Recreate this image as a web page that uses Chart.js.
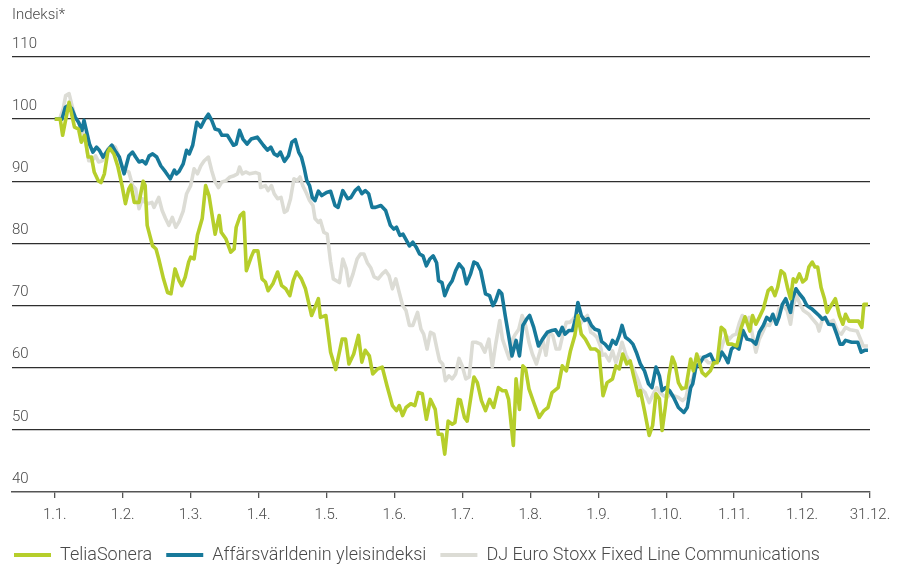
<!DOCTYPE html>
<html>
<head>
<meta charset="utf-8">
<script src="https://cdn.jsdelivr.net/npm/chart.js@4"></script>
<style>
  html, body { margin: 0; padding: 0; background: #fff; }
  #wrap { width: 905px; height: 568px; position: relative; }
</style>
</head>
<body>
<div id="wrap"><canvas id="chart"></canvas></div>
<script>
// x = months from 1.1. (0) to 31.12. (12), y = index (1.1. = 100)
const monthLabels = ['1.1.', '1.2.', '1.3.', '1.4.', '1.5.', '1.6.', '1.7.', '1.8.', '1.9.', '1.10.', '1.11.', '1.12.', '31.12.'];
const yTicks = [40, 50, 60, 70, 80, 90, 100, 110];
const seriesNames = ['TeliaSonera', 'Affärsvärldenin yleisindeksi', 'DJ Euro Stoxx Fixed Line Communications'];
const seriesColors = ['#b6ce2b', '#17799a', '#dcdcd5'];

const teliaSonera = [
  [0, 100], [0.08, 100], [0.115, 97.4], [0.21, 102.7], [0.29, 98.7], [0.35, 98.4], [0.39, 96.3], [0.44, 97.4],
  [0.49, 93.9], [0.54, 93.9], [0.58, 91.5], [0.64, 90.1], [0.68, 89.8], [0.73, 91.2], [0.78, 94.7], [0.81, 95.3],
  [0.87, 94.4], [0.93, 92.3], [0.99, 89.3], [1.04, 86.4], [1.09, 88.8], [1.12, 89.4], [1.17, 86.6], [1.24, 86.6],
  [1.30, 90.0], [1.33, 89.3], [1.36, 82.9], [1.44, 79.6], [1.49, 79.1], [1.53, 77.5], [1.60, 74.3], [1.66, 72.1],
  [1.71, 71.9], [1.77, 75.9], [1.83, 74.0], [1.87, 73.2], [1.92, 74.6], [1.97, 77.0], [2.00, 77.8], [2.05, 77.5],
  [2.10, 81.3], [2.17, 84.0], [2.22, 89.3], [2.27, 87.7], [2.36, 81.5], [2.42, 84.5], [2.45, 81.8], [2.52, 80.7],
  [2.59, 78.6], [2.64, 79.1], [2.67, 82.6], [2.73, 84.5], [2.78, 85.0], [2.82, 75.6], [2.89, 77.8], [2.93, 78.8],
  [2.99, 78.8], [3.05, 74.3], [3.10, 73.8], [3.14, 72.4], [3.21, 73.5], [3.28, 75.4], [3.34, 73.2], [3.40, 72.7],
  [3.46, 71.6], [3.51, 74.0], [3.56, 75.4], [3.63, 74.3], [3.69, 72.7], [3.78, 68.4], [3.84, 70.0], [3.88, 71.1],
  [3.91, 68.1], [3.99, 68.4], [4.06, 62.5], [4.135, 59.7], [4.23, 64.6], [4.28, 64.6], [4.33, 60.6], [4.40, 62.2],
  [4.47, 65.2], [4.52, 60.9], [4.57, 62.8], [4.63, 61.9], [4.68, 59.0], [4.75, 59.8], [4.82, 60.1], [4.89, 57.1],
  [4.97, 53.9], [5.03, 53.1], [5.07, 53.9], [5.12, 52.3], [5.17, 53.6], [5.24, 54.2], [5.30, 53.9], [5.35, 56.0],
  [5.41, 55.8], [5.47, 51.7], [5.53, 54.9], [5.60, 53.3], [5.645, 49.3], [5.70, 49.3], [5.74, 46.1], [5.79, 51.4],
  [5.85, 50.9], [5.89, 51.2], [5.94, 54.9], [5.97, 54.8], [6.03, 52.0], [6.07, 51.4], [6.17, 58.5], [6.22, 57.6],
  [6.28, 54.7], [6.34, 53.1], [6.40, 54.9], [6.46, 53.6], [6.53, 56.8], [6.59, 56.3], [6.64, 56.3], [6.68, 54.9],
  [6.75, 47.5], [6.79, 58.2], [6.84, 53.3], [6.89, 60.3], [6.93, 59.8], [6.98, 56.6], [7.05, 54.4], [7.13, 52.0],
  [7.20, 53.1], [7.26, 53.6], [7.32, 56.0], [7.41, 56.8], [7.47, 60.3], [7.53, 59.5], [7.59, 62.7], [7.655, 65.2],
  [7.70, 68.4], [7.75, 65.4], [7.81, 64.6], [7.89, 63.0], [7.96, 63.0], [8.01, 62.5], [8.07, 55.5], [8.13, 57.6],
  [8.21, 58.2], [8.26, 60.3], [8.31, 59.8], [8.36, 62.2], [8.42, 60.6], [8.47, 61.1], [8.52, 58.7], [8.59, 55.5],
  [8.62, 56.3], [8.68, 53.1], [8.75, 49.1], [8.80, 50.7], [8.85, 55.8], [8.90, 55.0], [8.94, 49.9], [8.99, 53.9],
  [9.04, 58.7], [9.09, 61.7], [9.13, 60.6], [9.18, 57.6], [9.23, 56.6], [9.29, 56.8], [9.36, 61.4], [9.40, 59.5],
  [9.45, 62.2], [9.53, 59.2], [9.58, 58.7], [9.65, 59.5], [9.70, 60.8], [9.75, 60.8], [9.81, 66.5], [9.86, 66.0],
  [9.91, 63.8], [9.97, 63.8], [10.04, 63.5], [10.10, 66.3], [10.16, 68.2], [10.23, 65.9], [10.27, 68.4], [10.32, 67.0],
  [10.37, 68.1], [10.43, 69.5], [10.50, 72.4], [10.55, 72.9], [10.60, 71.6], [10.64, 72.9], [10.69, 75.6], [10.74, 75.1],
  [10.79, 72.7], [10.83, 71.1], [10.87, 74.3], [10.91, 73.8], [10.96, 75.1], [11.01, 73.8], [11.06, 74.3], [11.10, 76.2],
  [11.15, 77.0], [11.19, 76.2], [11.23, 76.2], [11.28, 72.9], [11.33, 71.1], [11.37, 68.9], [11.41, 69.7], [11.49, 71.1],
  [11.55, 68.4], [11.60, 67.0], [11.64, 68.6], [11.69, 67.5], [11.78, 67.5], [11.83, 67.5], [11.88, 66.5], [11.91, 70.2],
  [11.97, 70.2]
];

const affarsvarlden = [
  [0, 100], [0.105, 100], [0.155, 101.9], [0.20, 102.2], [0.25, 101.7], [0.30, 100.3], [0.35, 99.5], [0.40, 98.2],
  [0.43, 99.8], [0.47, 97.9], [0.51, 96.0], [0.56, 94.7], [0.615, 95.5], [0.655, 95.0], [0.71, 93.9], [0.78, 95.0],
  [0.84, 95.8], [0.90, 94.7], [0.95, 93.9], [1.02, 91.2], [1.09, 94.1], [1.145, 94.7], [1.19, 93.9], [1.24, 93.1],
  [1.29, 93.3], [1.34, 92.8], [1.39, 94.1], [1.44, 94.4], [1.50, 93.9], [1.56, 92.5], [1.63, 91.5], [1.70, 90.4],
  [1.76, 91.8], [1.79, 91.2], [1.83, 91.6], [1.89, 92.8], [1.94, 95.0], [1.98, 94.4], [2.03, 95.8], [2.09, 99.5],
  [2.15, 98.7], [2.21, 100.0], [2.26, 100.8], [2.31, 99.8], [2.36, 98.4], [2.42, 98.2], [2.46, 97.4], [2.54, 97.4],
  [2.63, 95.8], [2.67, 96.0], [2.72, 98.2], [2.77, 96.8], [2.83, 96.0], [2.89, 96.8], [2.98, 97.1], [3.07, 95.8],
  [3.13, 95.0], [3.18, 95.5], [3.23, 94.4], [3.28, 94.1], [3.32, 94.7], [3.38, 93.2], [3.44, 94.1], [3.49, 96.3],
  [3.54, 96.7], [3.59, 94.7], [3.63, 93.9], [3.67, 92.2], [3.71, 90.1], [3.75, 89.3], [3.79, 87.4], [3.83, 86.9],
  [3.88, 88.4], [3.93, 87.7], [4.00, 88.2], [4.06, 88.4], [4.125, 86.1], [4.17, 85.8], [4.24, 88.5], [4.31, 87.2],
  [4.36, 87.4], [4.42, 88.5], [4.47, 89.0], [4.52, 88.0], [4.57, 88.5], [4.62, 88.0], [4.67, 85.8], [4.72, 85.8],
  [4.80, 86.1], [4.87, 85.3], [4.94, 82.9], [4.99, 82.3], [5.03, 82.6], [5.08, 81.3], [5.125, 81.5], [5.17, 80.6],
  [5.22, 79.6], [5.27, 80.2], [5.32, 79.4], [5.37, 78.3], [5.42, 78.0], [5.47, 76.4], [5.52, 77.5], [5.57, 78.0],
  [5.62, 76.9], [5.65, 74.0], [5.70, 73.7], [5.74, 71.6], [5.80, 73.2], [5.85, 74.0], [5.90, 75.6], [5.95, 76.7],
  [6.01, 75.9], [6.06, 73.5], [6.12, 75.1], [6.17, 77.0], [6.22, 76.7], [6.27, 75.6], [6.34, 71.9], [6.40, 71.6],
  [6.45, 70.0], [6.49, 70.8], [6.54, 72.4], [6.58, 71.9], [6.63, 68.4], [6.68, 65.2], [6.73, 61.9], [6.79, 64.4],
  [6.84, 61.9], [6.89, 66.8], [6.95, 67.9], [6.99, 68.4], [7.05, 66.5], [7.12, 63.5], [7.18, 64.6], [7.25, 65.7],
  [7.32, 66.0], [7.37, 66.1], [7.42, 65.2], [7.47, 66.5], [7.51, 65.4], [7.57, 66.0], [7.62, 66.0], [7.665, 67.9],
  [7.70, 70.5], [7.75, 68.4], [7.80, 67.6], [7.85, 67.9], [7.90, 66.8], [7.95, 66.2], [8.01, 66.0], [8.05, 64.2],
  [8.10, 63.8], [8.16, 63.0], [8.21, 64.4], [8.26, 63.8], [8.31, 65.2], [8.35, 66.8], [8.40, 64.9], [8.46, 64.4],
  [8.51, 63.8], [8.56, 62.5], [8.62, 60.6], [8.68, 59.5], [8.74, 57.4], [8.79, 56.8], [8.85, 60.1], [8.90, 58.7],
  [8.94, 56.3], [8.99, 56.8], [9.05, 56.3], [9.11, 55.2], [9.18, 53.6], [9.26, 52.8], [9.31, 53.6], [9.36, 56.8],
  [9.39, 57.4], [9.44, 60.3], [9.49, 60.6], [9.55, 61.7], [9.60, 61.9], [9.65, 62.2], [9.71, 60.8], [9.77, 61.1],
  [9.82, 62.5], [9.87, 61.7], [9.91, 60.8], [9.96, 63.0], [10.01, 63.5], [10.07, 63.0], [10.13, 66.0], [10.19, 64.6],
  [10.26, 64.4], [10.32, 63.8], [10.37, 65.7], [10.43, 66.8], [10.48, 68.1], [10.53, 67.6], [10.57, 68.6], [10.62, 67.0],
  [10.66, 68.1], [10.71, 70.2], [10.76, 71.1], [10.83, 68.9], [10.86, 71.1], [10.91, 72.7], [10.96, 71.9], [11.02, 71.1],
  [11.07, 70.0], [11.14, 69.5], [11.20, 68.9], [11.25, 68.4], [11.30, 67.8], [11.34, 68.1], [11.39, 67.0], [11.46, 66.9],
  [11.51, 65.4], [11.56, 63.8], [11.60, 63.8], [11.64, 64.4], [11.73, 64.1], [11.82, 64.1], [11.87, 62.5], [11.92, 62.8],
  [11.97, 62.8]
];

const djStoxx = [
  [0.03, 100], [0.07, 100], [0.125, 101.7], [0.16, 103.8], [0.21, 104.1], [0.26, 101.9], [0.30, 100.3], [0.35, 99.5],
  [0.40, 98.2], [0.46, 96.0], [0.50, 93.3], [0.55, 93.3], [0.60, 94.1], [0.645, 93.1], [0.70, 93.3], [0.78, 95.2],
  [0.84, 95.8], [0.89, 95.5], [0.93, 94.4], [0.97, 92.8], [1.02, 91.8], [1.09, 91.5], [1.145, 89.3], [1.19, 88.8],
  [1.24, 85.6], [1.29, 87.2], [1.33, 86.6], [1.38, 86.4], [1.43, 86.6], [1.46, 85.8], [1.53, 87.4], [1.58, 85.3],
  [1.63, 84.0], [1.68, 82.9], [1.73, 84.2], [1.78, 82.6], [1.83, 83.5], [1.89, 85.2], [1.94, 88.0], [2.00, 89.3],
  [2.05, 92.0], [2.10, 91.2], [2.15, 92.5], [2.20, 93.3], [2.26, 93.9], [2.31, 91.7], [2.36, 89.9], [2.41, 89.0],
  [2.46, 89.9], [2.52, 90.1], [2.58, 90.7], [2.64, 90.9], [2.69, 91.2], [2.72, 92.3], [2.76, 91.2], [2.81, 91.5],
  [2.87, 91.2], [2.96, 91.4], [3.01, 91.2], [3.03, 89.0], [3.10, 89.3], [3.14, 88.5], [3.19, 89.3], [3.23, 88.0],
  [3.28, 87.2], [3.33, 87.4], [3.38, 85.0], [3.42, 85.3], [3.47, 87.2], [3.52, 90.4], [3.57, 90.1], [3.61, 90.7],
  [3.65, 89.3], [3.70, 88.2], [3.75, 86.9], [3.80, 86.1], [3.83, 84.0], [3.88, 83.4], [3.91, 83.7], [3.96, 81.8],
  [4.01, 81.5], [4.06, 77.0], [4.10, 74.3], [4.145, 74.0], [4.19, 73.7], [4.24, 77.5], [4.29, 75.9], [4.33, 73.2],
  [4.39, 75.1], [4.45, 77.5], [4.50, 78.3], [4.55, 78.3], [4.60, 76.9], [4.65, 76.1], [4.70, 74.6], [4.76, 74.3],
  [4.82, 75.1], [4.87, 75.6], [4.92, 74.8], [4.97, 72.7], [5.02, 74.3], [5.07, 72.1], [5.12, 70.0], [5.17, 69.2],
  [5.22, 66.8], [5.27, 66.8], [5.34, 68.9], [5.39, 66.2], [5.43, 65.4], [5.48, 63.0], [5.53, 65.7], [5.58, 65.4],
  [5.63, 62.8], [5.665, 61.1], [5.71, 60.6], [5.75, 57.9], [5.80, 58.7], [5.85, 58.2], [5.90, 59.0], [5.95, 61.5],
  [6.00, 60.2], [6.05, 58.2], [6.10, 58.5], [6.15, 64.1], [6.20, 64.1], [6.27, 63.8], [6.33, 62.5], [6.39, 64.6],
  [6.44, 60.1], [6.49, 63.8], [6.55, 67.6], [6.59, 64.6], [6.64, 63.0], [6.69, 61.4], [6.74, 64.6], [6.78, 65.4],
  [6.83, 66.2], [6.88, 68.4], [6.93, 66.8], [6.98, 64.1], [7.03, 62.2], [7.09, 60.6], [7.14, 62.5], [7.185, 64.4],
  [7.23, 62.0], [7.28, 65.7], [7.33, 65.2], [7.38, 63.0], [7.43, 63.0], [7.48, 65.4], [7.53, 67.3], [7.58, 67.3],
  [7.63, 67.8], [7.675, 68.4], [7.72, 66.8], [7.79, 67.9], [7.84, 68.4], [7.89, 65.7], [7.935, 65.4], [7.98, 64.9],
  [8.03, 63.5], [8.06, 62.0], [8.10, 62.2], [8.16, 61.1], [8.21, 62.7], [8.26, 60.8], [8.31, 62.5], [8.35, 64.1],
  [8.41, 62.0], [8.47, 60.8], [8.52, 59.8], [8.59, 57.9], [8.63, 56.6], [8.69, 56.0], [8.75, 54.4], [8.82, 56.0],
  [8.86, 56.8], [8.91, 56.0], [8.96, 55.5], [9.01, 55.2], [9.06, 55.8], [9.11, 55.5], [9.18, 55.2], [9.24, 54.7],
  [9.29, 55.2], [9.34, 57.6], [9.39, 58.2], [9.44, 60.6], [9.50, 61.7], [9.57, 61.4], [9.62, 60.8], [9.68, 60.8],
  [9.73, 61.1], [9.78, 61.7], [9.83, 63.8], [9.88, 65.2], [9.93, 64.6], [9.98, 65.2], [10.03, 65.4], [10.08, 67.3],
  [10.12, 68.4], [10.17, 67.5], [10.22, 68.1], [10.29, 64.1], [10.32, 62.5], [10.37, 64.6], [10.42, 65.7], [10.47, 67.0],
  [10.52, 66.8], [10.57, 67.9], [10.62, 67.6], [10.66, 69.5], [10.71, 70.2], [10.78, 69.2], [10.83, 67.0], [10.87, 70.0],
  [10.92, 71.6], [10.97, 70.2], [11.02, 69.2], [11.10, 68.6], [11.15, 67.9], [11.22, 67.0], [11.25, 65.9], [11.30, 67.8],
  [11.35, 67.8], [11.40, 67.3], [11.46, 67.6], [11.53, 65.7], [11.58, 65.4], [11.64, 66.5], [11.71, 66.1], [11.81, 65.9],
  [11.86, 64.6], [11.90, 63.5], [11.97, 63.5]
];

const FONT = 'Roboto, "Liberation Sans", Arial, sans-serif';
const TEXT = '#4a4a4a';

Chart.defaults.font.family = FONT;
Chart.defaults.font.weight = '300';
Chart.defaults.color = TEXT;

// "Indeksi*" unit label in the top-left corner
const unitLabel = {
    id: 'unitLabel',
    afterDraw(chart) {
        const ctx = chart.ctx;
        ctx.save();
        ctx.font = '300 15px ' + FONT;
        ctx.fillStyle = TEXT;
        ctx.textBaseline = 'middle';
        ctx.fillText('Indeksi*', 12, 15);
        ctx.restore();
    }
};

function toPoints(pairs) {
    return pairs.map(p => ({ x: p[0], y: p[1] }));
}

const seriesData = [teliaSonera, affarsvarlden, djStoxx];

new Chart(document.getElementById('chart'), {
    type: 'line',
    data: {
        datasets: seriesData.map((pairs, i) => ({
            label: seriesNames[i],
            data: toPoints(pairs),
            borderColor: seriesColors[i],
            backgroundColor: seriesColors[i],
            borderWidth: 3.6,
            borderJoinStyle: 'round',
            pointRadius: 0,
            tension: 0
        }))
    },
    options: {
        responsive: true,
        maintainAspectRatio: false,
        animation: false,
        layout: {
            padding: { left: 0, right: 35, top: 57, bottom: -6 }
        },
        plugins: {
            tooltip: { enabled: false },
            legend: {
                position: 'bottom',
                align: 'start',
                labels: {
                    boxWidth: 37,
                    boxHeight: 4,
                    padding: 14,
                    font: { size: 18, weight: '300' },
                    color: TEXT,
                    generateLabels(chart) {
                        const items = Chart.defaults.plugins.legend.labels.generateLabels(chart);
                        items.forEach(it => { it.lineWidth = 0; it.fillStyle = it.strokeStyle; });
                        return items;
                    }
                }
            }
        },
        scales: {
            x: {
                type: 'linear',
                min: -0.63,
                max: 12,
                afterBuildTicks(scale) {
                    scale.ticks = monthLabels.map((_, i) => ({ value: i }));
                },
                ticks: {
                    autoSkip: false,
                    maxRotation: 0,
                    padding: 8,
                    font: { size: 15, weight: '300' },
                    color: TEXT,
                    callback: (value) => monthLabels[value]
                },
                grid: {
                    drawOnChartArea: false,
                    drawTicks: true,
                    tickLength: 6,
                    color: '#555',
                    lineWidth: 1.3
                },
                border: { display: true, color: '#555', width: 1.5 }
            },
            y: {
                min: 40,
                max: 110,
                afterBuildTicks(scale) {
                    scale.ticks = yTicks.map(v => ({ value: v }));
                },
                afterFit(scale) {
                    scale.width = 12;
                },
                ticks: {
                    mirror: true,
                    padding: 0,
                    labelOffset: -13,
                    font: { size: 15, weight: '300' },
                    color: TEXT
                },
                grid: {
                    drawTicks: false,
                    color: (ctx) => ctx.tick && ctx.tick.value === 40 ? 'rgba(0,0,0,0)' : '#2e2e2e',
                    lineWidth: 1.3
                },
                border: { display: false }
            }
        }
    },
    plugins: [unitLabel]
});
</script>
</body>
</html>
